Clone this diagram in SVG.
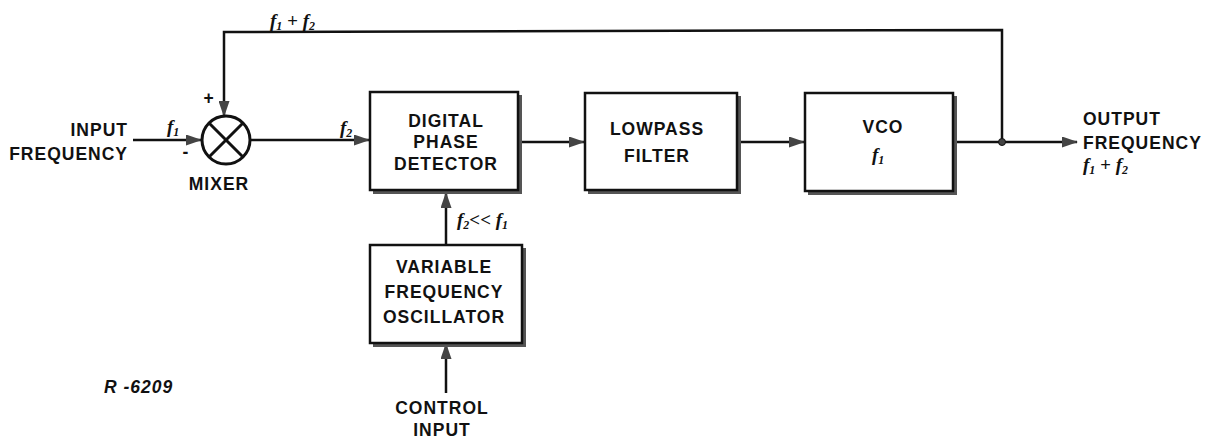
<svg xmlns="http://www.w3.org/2000/svg" width="1226" height="442" viewBox="0 0 1226 442">
  <style>
    .lbl { font-family: "Liberation Sans", Arial, sans-serif; font-weight: bold; font-size: 17.5px; fill: #111; letter-spacing: 1px; }
    .sym { font-family: "Liberation Serif", "Times New Roman", serif; font-style: italic; font-weight: bold; font-size: 19px; fill: #111; }
    .sub { font-size: 12px; }
    .box { fill: #fff; stroke: #111; stroke-width: 2.5; }
    .shadow { fill: none; stroke: #555; stroke-width: 4; }
    .wire { fill: none; stroke: #111; stroke-width: 2.5; }
  </style>
  <defs>
    <marker id="arrow" markerUnits="userSpaceOnUse" markerWidth="16" markerHeight="11" refX="15" refY="5.5" orient="auto">
      <path d="M0,0 L16,5.5 L0,11 Z" fill="#444"/>
    </marker>
  </defs>
  <rect width="1226" height="442" fill="#fff"/>

  <!-- connectors -->
  <g id="connectors">
    <line class="wire" x1="133" y1="140" x2="201" y2="140" marker-end="url(#arrow)"/>
    <line class="wire" x1="250" y1="140" x2="369" y2="140" marker-end="url(#arrow)"/>
    <line class="wire" x1="518" y1="142" x2="584" y2="142" marker-end="url(#arrow)"/>
    <line class="wire" x1="737" y1="142" x2="804" y2="142" marker-end="url(#arrow)"/>
    <line class="wire" x1="953" y1="142" x2="1077" y2="142" marker-end="url(#arrow)"/>
    <path class="wire" d="M1002,142 L1002,30 L224,32 L224,116" marker-end="url(#arrow)"/>
    <circle cx="1002" cy="142" r="3.5" fill="#444" stroke="#111" stroke-width="1"/>
    <line class="wire" x1="446" y1="245" x2="446" y2="193" marker-end="url(#arrow)"/>
    <line class="wire" x1="446" y1="393" x2="446" y2="344" marker-end="url(#arrow)"/>
    <!-- signal labels -->
    <text class="sym" x="270" y="27">f<tspan class="sub" dy="3">1</tspan><tspan dy="-3"> + f</tspan><tspan class="sub" dy="3">2</tspan></text>
    <text class="sym" x="167" y="133">f<tspan class="sub" dy="3">1</tspan></text>
    <text class="sym" x="340" y="134">f<tspan class="sub" dy="3">2</tspan></text>
    <text class="sym" x="457" y="226">f<tspan class="sub" dy="3">2</tspan><tspan dy="-3">&lt;&lt; f</tspan><tspan class="sub" dy="3">1</tspan></text>
  </g>

  <!-- input -->
  <g id="input">
    <text class="lbl" x="128" y="136" text-anchor="end">INPUT</text>
    <text class="lbl" x="128" y="160" text-anchor="end">FREQUENCY</text>
  </g>

  <!-- mixer -->
  <g id="mixer">
    <circle cx="226" cy="140" r="24" fill="#fff" stroke="#111" stroke-width="3"/>
    <line x1="209" y1="123" x2="243" y2="157" stroke="#111" stroke-width="3"/>
    <line x1="243" y1="123" x2="209" y2="157" stroke="#111" stroke-width="3"/>
    <text class="lbl" x="209" y="104" text-anchor="middle" font-size="14">+</text>
    <text class="lbl" x="186" y="158" text-anchor="middle" font-size="16">-</text>
    <text class="lbl" x="219" y="190" text-anchor="middle" letter-spacing="1.5">MIXER</text>
  </g>

  <!-- digital phase detector -->
  <g id="phase-detector">
    <polyline class="shadow" points="520,95 520,192 373,192"/>
    <rect class="box" x="370" y="92" width="148" height="98"/>
    <text class="lbl" x="446" y="127" text-anchor="middle" letter-spacing="1.5">DIGITAL</text>
    <text class="lbl" x="446" y="148" text-anchor="middle">PHASE</text>
    <text class="lbl" x="446" y="170" text-anchor="middle" letter-spacing="0">DETECTOR</text>
  </g>

  <!-- lowpass filter -->
  <g id="lowpass-filter">
    <polyline class="shadow" points="739,96 739,192 588,192"/>
    <rect class="box" x="585" y="93" width="152" height="97"/>
    <text class="lbl" x="657" y="135" text-anchor="middle" letter-spacing="0.5">LOWPASS</text>
    <text class="lbl" x="657" y="162" text-anchor="middle" letter-spacing="1.5">FILTER</text>
  </g>

  <!-- vco -->
  <g id="vco">
    <polyline class="shadow" points="955,96 955,193 808,193"/>
    <rect class="box" x="805" y="93" width="148" height="98"/>
    <text class="lbl" x="883" y="133" text-anchor="middle" letter-spacing="7">VCO</text>
    <text class="sym" x="872" y="161">f<tspan class="sub" dy="3">1</tspan></text>
  </g>

  <!-- output -->
  <g id="output">
    <text class="lbl" x="1083" y="125">OUTPUT</text>
    <text class="lbl" x="1083" y="149">FREQUENCY</text>
    <text class="sym" x="1083" y="171">f<tspan class="sub" dy="3">1</tspan><tspan dy="-3"> + f</tspan><tspan class="sub" dy="3">2</tspan></text>
  </g>

  <!-- variable frequency oscillator -->
  <g id="oscillator">
    <polyline class="shadow" points="524,248 524,345 373,345"/>
    <rect class="box" x="370" y="245" width="152" height="98"/>
    <text class="lbl" x="444" y="273" text-anchor="middle">VARIABLE</text>
    <text class="lbl" x="444" y="298" text-anchor="middle" letter-spacing="0">FREQUENCY</text>
    <text class="lbl" x="444" y="323" text-anchor="middle" letter-spacing="0">OSCILLATOR</text>
  </g>

  <!-- control input -->
  <g id="control-input">
    <text class="lbl" x="442" y="414" text-anchor="middle">CONTROL</text>
    <text class="lbl" x="442" y="436" text-anchor="middle">INPUT</text>
  </g>

  <text class="lbl" x="104" y="393" font-style="italic" font-size="14" letter-spacing="1">R -6209</text>
</svg>
